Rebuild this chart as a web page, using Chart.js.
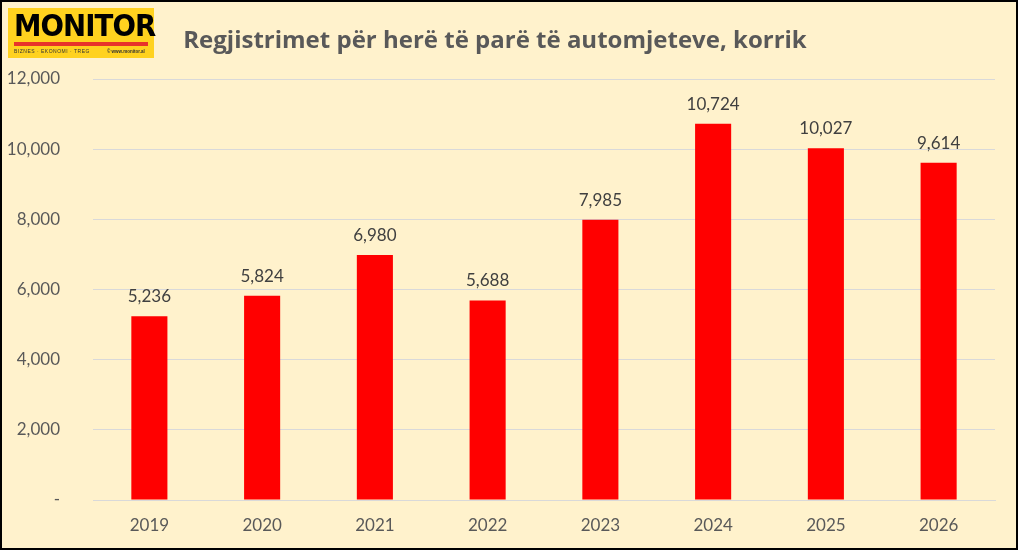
<!DOCTYPE html>
<html><head><meta charset="utf-8">
<script src="https://cdn.jsdelivr.net/npm/chart.js@4/dist/chart.umd.min.js"></script>
<style>
html,body{margin:0;padding:0;}
#frame{position:relative;width:1014px;height:546px;border:2px solid #000;background:#FFF2CC;overflow:hidden;font-family:Lato,"Open Sans",sans-serif;}
#logo{position:absolute;left:6px;top:6px;width:146px;height:50px;background:#FFD21F;}
#logo .m{position:absolute;left:6px;top:1px;font:900 30px/34px "DejaVu Sans","Liberation Sans",sans-serif;color:#000;letter-spacing:-1px;transform:scaleX(0.92);transform-origin:left top;}
#logo .bar{position:absolute;left:6px;top:34px;width:134px;height:4px;background:#E8332A;}
#logo .s{position:absolute;left:6px;top:40px;font:5px/7px "Liberation Sans",sans-serif;color:#333;letter-spacing:0.5px;}
#logo .w{position:absolute;left:99px;top:40px;font:bold 4.5px/7px "Liberation Sans",sans-serif;color:#333;}
#title{position:absolute;left:0;top:20px;width:986px;text-align:center;font:bold 24px "Open Sans",Lato,sans-serif;color:#595959;}
canvas{position:absolute;left:0;top:0;}
</style></head>
<body>
<div id="frame">
<canvas id="c" width="1014" height="546"></canvas>
<div id="logo"><div class="m">MONITOR</div><div class="bar"></div><div class="s">BIZNES · EKONOMI · TREG</div><div class="w">© www.monitor.al</div></div>
<div id="title">Regjistrimet për herë të parë të automjeteve, korrik</div>
</div>
<script>
const categories = ["2019","2020","2021","2022","2023","2024","2025","2026"];
const registrations = [5236, 5824, 6980, 5688, 7985, 10724, 10027, 9614];
const yTicks = [0, 2000, 4000, 6000, 8000, 10000, 12000];

const fmt = v => v === 0 ? "-" : v.toLocaleString("en-US");

const valueLabels = {
  id: "valueLabels",
  afterDatasetsDraw(chart) {
    const ctx = chart.ctx;
    const meta = chart.getDatasetMeta(0);
    ctx.save();
    ctx.fillStyle = "#404040";
    ctx.font = "17px Lato, 'Open Sans', sans-serif";
    ctx.textAlign = "center";
    ctx.textBaseline = "alphabetic";
    meta.data.forEach((bar, i) => {
      ctx.fillText(fmt(chart.data.datasets[0].data[i]), bar.x, bar.y - 14);
    });
    ctx.restore();
  }
};

new Chart(document.getElementById("c"), {
  type: "bar",
  data: {
    labels: categories,
    datasets: [{
      data: registrations,
      backgroundColor: "#FF0000",
      categoryPercentage: 1,
      barPercentage: 0.32
    }]
  },
  options: {
    responsive: false,
    animation: false,
    layout: { padding: { top: 77, right: 21, left: 0, bottom: 0 } },
    plugins: { legend: { display: false }, tooltip: { enabled: false } },
    scales: {
      x: {
        grid: { display: false },
        border: { display: true, color: "#D9D9D9", width: 1 },
        ticks: { color: "#595959", font: { size: 17, family: "Lato, 'Open Sans', sans-serif" }, padding: 7 },
        afterFit: s => { s.height = 48; }
      },
      y: {
        min: 0, max: 12000,
        afterBuildTicks: s => { s.ticks = yTicks.map(v => ({ value: v })); },
        grid: { color: "#D9D9D9", lineWidth: 1, drawTicks: false },
        border: { display: false },
        ticks: { color: "#595959", font: { size: 17, family: "Lato, 'Open Sans', sans-serif" }, padding: 33, callback: v => fmt(v) },
        afterFit: s => { s.width = 91; }
      }
    }
  },
  plugins: [valueLabels]
});
</script>
</body></html>
